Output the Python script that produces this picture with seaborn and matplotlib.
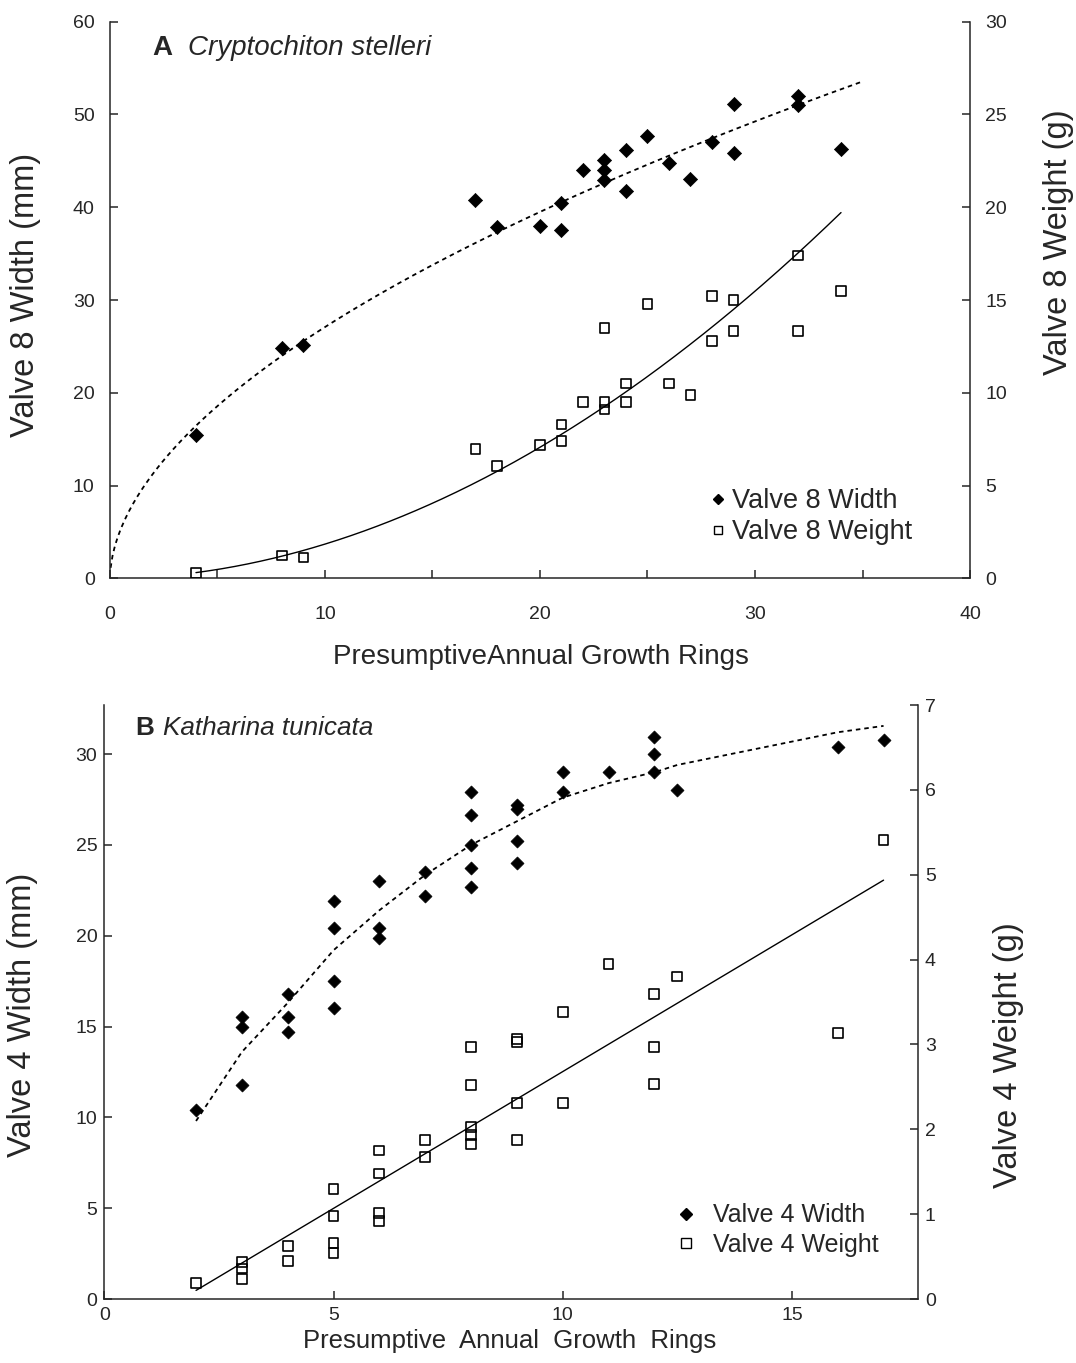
import numpy as np
import pandas as pd
import matplotlib
matplotlib.use("Agg")
import matplotlib.pyplot as plt
import seaborn as sns
from matplotlib.lines import Line2D

# ---------------- Panel A : Cryptochiton stelleri ----------------
a_width_rings = [4, 8, 9, 17, 18, 20, 21, 21, 22, 23, 23, 23, 24, 24, 25, 26, 27, 28,
                 29, 29, 32, 32, 34]
a_width_mm = [15.5, 24.8, 25.2, 40.8, 37.9, 38.0, 37.6, 40.5, 44.0, 45.1, 44.0, 42.9,
              46.2, 41.8, 47.7, 44.8, 43.0, 47.0, 51.1, 45.9, 52.0, 51.0, 46.3]
a_weight_rings = [4, 8, 9, 17, 18, 20, 21, 21, 22, 23, 23, 23, 24, 24, 25, 26, 27, 28,
                  28, 29, 29, 32, 32, 34]
a_weight_g = [0.3, 1.24, 1.13, 6.97, 6.05, 7.19, 8.3, 7.4, 9.5, 13.5, 9.5, 9.1, 10.5,
              9.5, 14.8, 10.5, 9.9, 15.2, 12.8, 15.0, 13.35, 13.35, 17.4, 15.5]

# ---------------- Panel B : Katharina tunicata ----------------
b_width_rings = [2, 3, 3, 3, 4, 4, 4, 5, 5, 5, 5, 6, 6, 6, 7, 7, 8, 8, 8, 8, 8,
                 9, 9, 9, 9, 10, 10, 11, 12, 12, 12, 12.5, 16, 17]
b_width_mm = [10.4, 15.5, 15.0, 11.8, 16.8, 15.5, 14.7, 21.9, 20.4, 17.5, 16.0,
              23.0, 20.4, 19.9, 23.5, 22.2, 27.9, 26.65, 25.0, 23.7, 22.7,
              27.2, 27.0, 25.2, 24.0, 29.0, 27.9, 29.0, 30.95, 30.0, 29.0, 28.0, 30.4, 30.8]
b_weight_rings = [2, 3, 3, 3, 4, 4, 5, 5, 5, 5, 6, 6, 6, 6, 7, 7, 8, 8, 8, 8, 8,
                  9, 9, 9, 9, 10, 10, 11, 12, 12, 12, 12.5, 16, 17]
b_weight_g = [0.19, 0.44, 0.36, 0.24, 0.62, 0.45, 1.30, 0.98, 0.66, 0.54,
              1.75, 1.48, 1.01, 0.92, 1.87, 1.67, 2.97, 2.52, 2.03, 1.93, 1.83,
              3.06, 3.03, 2.31, 1.87, 3.38, 2.31, 3.95, 3.59, 2.97, 2.53, 3.80, 3.13, 5.41]
# dashed trend line of panel B width, read at its vertices
b_width_trend_rings = [2, 3, 4, 5, 6, 7, 8, 9, 10, 11, 12, 12.5, 16, 17]
b_width_trend_mm = [9.8, 13.6, 16.3, 19.2, 21.4, 23.35, 25.0, 26.3, 27.6, 28.4, 29.0,
                    29.4, 31.2, 31.55]

# ---------------- style ----------------
sns.set_style("ticks")
plt.rcParams['font.family'] = ['Liberation Sans', 'DejaVu Sans']
plt.rcParams['axes.linewidth'] = 1.1

XLABEL_FS = 20
YLABEL_FS = 23.5
TICK_FS = 14
DASH = (0, (2.5, 2.2))


def power_fit(x, y):
    b, ln_a = np.polyfit(np.log(np.asarray(x, float)), np.log(np.asarray(y, float)), 1)
    return np.exp(ln_a), b


def style_axes(ax, ax2, xpad, ypad):
    ax.spines['top'].set_visible(False)
    ax.spines['right'].set_visible(False)
    ax2.spines['top'].set_visible(False)
    ax2.spines['left'].set_visible(False)
    ax2.spines['bottom'].set_visible(False)
    ax.tick_params(axis='x', direction='in', length=6, width=1.1, labelsize=TICK_FS, pad=xpad)
    ax.tick_params(axis='y', direction='in', length=6, width=1.1, labelsize=TICK_FS, pad=ypad)
    ax2.tick_params(axis='y', direction='in', length=6, width=1.1, labelsize=TICK_FS, pad=ypad)


fig = plt.figure(figsize=(10.76, 13.63), dpi=100)

# ===================== Panel A =====================
axA = fig.add_axes([0.1022, 0.5756, 0.7993, 0.4085])
axA2 = axA.twinx()

dfAw = pd.DataFrame({"rings": a_width_rings, "width": a_width_mm})
dfAg = pd.DataFrame({"rings": a_weight_rings, "weight": a_weight_g})

aw, bw = power_fit(a_width_rings, a_width_mm)
xw = np.linspace(0.03, 35, 400)
sns.lineplot(x=xw, y=aw * xw ** bw, ax=axA, color='black', linewidth=1.3,
             linestyle=DASH, estimator=None, sort=False)
sns.scatterplot(data=dfAw, x="rings", y="width", ax=axA, marker='D', s=52,
                color='black', edgecolor='black', linewidth=0.5, zorder=3)

ag, bg = power_fit(a_weight_rings, a_weight_g)
xg = np.linspace(min(a_weight_rings), max(a_weight_rings), 400)
sns.lineplot(x=xg, y=ag * xg ** bg, ax=axA2, color='black', linewidth=1.0,
             estimator=None, sort=False)
sns.scatterplot(data=dfAg, x="rings", y="weight", ax=axA2, marker='s', s=50,
                facecolor='none', edgecolor='black', linewidth=1.2, zorder=3)

axA.set_xlim(0, 40)
axA.set_ylim(0, 60)
axA2.set_ylim(0, 30)
axA.set_xticks(np.arange(0, 41, 5))
axA.set_xticklabels([str(v) if v % 10 == 0 else '' for v in range(0, 41, 5)])
axA.set_yticks(np.arange(0, 61, 10))
axA2.set_yticks(np.arange(0, 31, 5))
style_axes(axA, axA2, xpad=20, ypad=11)

axA.set_xlabel("PresumptiveAnnual Growth Rings", fontsize=XLABEL_FS, va='top')
axA.xaxis.set_label_coords(0.501, -0.117)
axA.set_ylabel("Valve 8 Width (mm)", fontsize=YLABEL_FS)
axA.yaxis.set_label_coords(-0.080, 0.509)
axA2.set_ylabel("Valve 8 Weight (g)", fontsize=YLABEL_FS)
axA2.yaxis.set_label_coords(1.085, 0.604)

axA.text(0.049, 0.952, "A", transform=axA.transAxes, fontsize=20, fontweight='bold',
         va='center', ha='left')
axA.text(0.0905, 0.952, "Cryptochiton stelleri", transform=axA.transAxes, fontsize=20,
         style='italic', va='center', ha='left')

handlesA = [Line2D([], [], marker='D', ls='none', color='black', markersize=5),
            Line2D([], [], marker='s', ls='none', mfc='none', mec='black', markersize=6,
                   markeredgewidth=1.0)]
axA2.legend(handlesA, ["Valve 8 Width", "Valve 8 Weight"], loc='center left',
            bbox_to_anchor=(0.698, 0.111), frameon=False, fontsize=19.5,
            handlelength=0.6, handletextpad=0.2, labelspacing=0.18,
            borderpad=0, borderaxespad=0)

# ===================== Panel B =====================
axB = fig.add_axes([0.0970, 0.04695, 0.7561, 0.4358])
axB2 = axB.twinx()

dfBw = pd.DataFrame({"rings": b_width_rings, "width": b_width_mm})
dfBg = pd.DataFrame({"rings": b_weight_rings, "weight": b_weight_g})

sns.lineplot(x=b_width_trend_rings, y=b_width_trend_mm, ax=axB, color='black',
             linewidth=1.3, linestyle=DASH, estimator=None, sort=False)
sns.scatterplot(data=dfBw, x="rings", y="width", ax=axB, marker='D', s=44,
                color='black', edgecolor='black', linewidth=0.5, zorder=3)

slope, intercept = np.polyfit(b_weight_rings, b_weight_g, 1)
xl = np.array([min(b_weight_rings), max(b_weight_rings)], float)
sns.lineplot(x=xl, y=intercept + slope * xl, ax=axB2, color='black', linewidth=1.0,
             estimator=None, sort=False)
sns.scatterplot(data=dfBg, x="rings", y="weight", ax=axB2, marker='s', s=50,
                facecolor='none', edgecolor='black', linewidth=1.2, zorder=3)

axB.set_xlim(0, 17.75)
axB.set_ylim(0, 32.7)
axB2.set_ylim(0, 7)
axB.set_xticks([0, 5, 10, 15])
axB.set_yticks(np.arange(0, 31, 5))
axB2.set_yticks(np.arange(0, 8, 1))
style_axes(axB, axB2, xpad=6, ypad=5)

axB.set_xlabel("Presumptive  Annual  Growth  Rings", fontsize=18.5, va='top')
axB.xaxis.set_label_coords(0.4985, -0.050)
axB.set_ylabel("Valve 4 Width (mm)", fontsize=YLABEL_FS)
axB.yaxis.set_label_coords(-0.081, 0.478)
axB2.set_ylabel("Valve 4 Weight (g)", fontsize=YLABEL_FS)
axB2.yaxis.set_label_coords(1.092, 0.411)

axB.text(0.0376, 0.961, "B", transform=axB.transAxes, fontsize=18.8, fontweight='bold',
         va='center', ha='left')
axB.text(0.072, 0.961, "Katharina tunicata", transform=axB.transAxes, fontsize=18.8,
         style='italic', va='center', ha='left')

handlesB = [Line2D([], [], marker='D', ls='none', color='black', markersize=6),
            Line2D([], [], marker='s', ls='none', mfc='none', mec='black', markersize=7,
                   markeredgewidth=1.0)]
axB2.legend(handlesB, ["Valve 4 Width", "Valve 4 Weight"], loc='center left',
            bbox_to_anchor=(0.70, 0.116), frameon=False, fontsize=18,
            handlelength=1.0, handletextpad=0.55, labelspacing=0.22,
            borderpad=0, borderaxespad=0)

fig.savefig("out.png", dpi=100)
